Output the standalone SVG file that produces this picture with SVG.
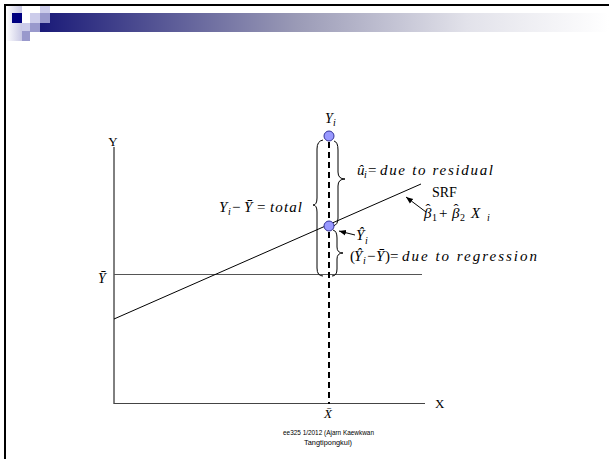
<svg xmlns="http://www.w3.org/2000/svg" width="609" height="459" viewBox="0 0 609 459">
<defs>
<linearGradient id="bar" x1="0" y1="0" x2="1" y2="0">
<stop offset="0" stop-color="#1a1a78"/>
<stop offset="0.45" stop-color="#9a9ab6"/>
<stop offset="0.75" stop-color="#e2e2ea"/>
<stop offset="1" stop-color="#ffffff"/>
</linearGradient>
<linearGradient id="strip" x1="0" y1="0" x2="1" y2="0">
<stop offset="0" stop-color="#ffffff"/>
<stop offset="1" stop-color="#c8c8e4"/>
</linearGradient>
<marker id="ah" viewBox="0 0 10 10" refX="10" refY="5" markerWidth="7" markerHeight="7" orient="auto">
<path d="M0,1 L10,5 L0,9 z" fill="#000"/>
</marker>
</defs>
<style>
.m{font-family:"Liberation Serif","Times New Roman",serif;font-style:italic;font-size:15px;fill:#000}
.n{font-family:"Liberation Serif","Times New Roman",serif;font-size:15px;fill:#000}
.r{font-family:"Liberation Serif","Times New Roman",serif;font-size:13px;fill:#000}
.s{font-family:"Liberation Serif","Times New Roman",serif;font-style:italic;font-size:10px;fill:#000}
.sn{font-style:normal;font-size:10px}
.f{font-family:"Liberation Sans",Arial,sans-serif;font-size:8px;fill:#000}
.br{fill:none;stroke:#000;stroke-width:1}
.pt{fill:#9999ff;stroke:#333399;stroke-width:1}
</style>
<rect width="609" height="459" fill="#fff"/>
<g id="header">
<rect x="6" y="6" width="16" height="35" fill="url(#strip)"/>
<rect x="40" y="13" width="569" height="19" fill="url(#bar)"/>
<rect x="12" y="13" width="10" height="10" fill="#000080"/>
<rect x="30" y="13" width="10" height="10" fill="#ccccea"/>
<rect x="40" y="6" width="10" height="7" fill="#ccccea"/>
<rect x="40" y="13" width="10" height="10" fill="#9999cc"/>
<rect x="22" y="23" width="8" height="8" fill="#ccccea"/>
<rect x="30" y="23" width="10" height="9" fill="#9999cc"/>
<rect x="22" y="31" width="8" height="10" fill="#9999cc"/>
<line x1="4" y1="5" x2="609" y2="5" stroke="#000" stroke-width="2"/>
<line x1="5" y1="4" x2="5" y2="459" stroke="#000" stroke-width="2"/>
</g>
<g id="axes">
<line x1="114" y1="147" x2="114" y2="404" stroke="#000" stroke-width="1"/>
<line x1="114" y1="403.5" x2="425" y2="403.5" stroke="#444" stroke-width="1"/>
<line x1="114" y1="274.5" x2="422" y2="274.5" stroke="#555" stroke-width="1"/>
<text class="r" x="113" y="146" text-anchor="middle">Y</text>
<text class="r" x="435" y="408">X</text>
<text class="m" x="328" y="418" text-anchor="middle" style="font-size:13px">X̄</text>
<text class="m" x="102" y="283" text-anchor="middle" style="font-size:14px">Ȳ</text>
</g>
<g id="srf">
<line x1="114" y1="319" x2="421" y2="184" stroke="#000" stroke-width="1"/>
<text class="r" x="432" y="197" style="font-size:14px">SRF</text>
<text class="m" y="218"><tspan x="424">β</tspan><tspan x="425.5" dy="-4" font-style="normal">ˆ</tspan><tspan class="sn" x="432" dy="7">1</tspan><tspan x="439" dy="-3" font-style="normal">+</tspan><tspan x="452">β</tspan><tspan x="453.5" dy="-4" font-style="normal">ˆ</tspan><tspan class="sn" x="460" dy="7">2</tspan><tspan x="471" dy="-3">X</tspan><tspan class="s" x="487" dy="3">i</tspan></text>
</g>
<g id="dashed-xbar">
<line x1="329" y1="142" x2="329" y2="404" stroke="#000" stroke-width="2" stroke-dasharray="6 4"/>
</g>
<g id="braces">
<path class="br" d="M323,140 Q317,141 317,149 L317,198 Q317,205 313,205 Q317,205 317,212 L317,268 Q317,276 323,276"/>
<path class="br" d="M334,141 Q338,142 338,150 L338,172 Q338,179 345,179 Q338,179 338,186 L338,218 Q338,225 333,226"/>
<path class="br" d="M333,230 Q337,231 337,238 L337,247 Q337,253 343,253 Q337,253 337,259 L337,269 Q337,276 332,276"/>
</g>
<g id="point-yi">
<circle class="pt" cx="329" cy="136" r="5"/>
<text class="m" x="325" y="123" style="font-size:14px">Y</text>
<text class="s" x="333" y="126">i</text>
</g>
<g id="point-yhat">
<circle class="pt" cx="329" cy="226" r="5"/>
<text class="m" x="356" y="240">Ŷ</text>
<text class="s" x="365" y="244">i</text>
</g>
<g id="connectors">
<line x1="426" y1="212" x2="406" y2="197" stroke="#000" stroke-width="1" marker-end="url(#ah)"/>
<line x1="355" y1="235" x2="339" y2="231" stroke="#000" stroke-width="1" marker-end="url(#ah)"/>
</g>
<g id="labels">
<text class="m" x="219" y="212">Y</text>
<text class="s" x="228" y="215">i</text>
<text class="n" x="232" y="212">−</text>
<text class="m" x="244" y="212">Ȳ</text>
<text class="n" x="257" y="212">=</text>
<text class="m" x="270" y="212" textLength="32" lengthAdjust="spacing">total</text>

<text class="m" x="357" y="175">û</text>
<text class="s" x="364" y="178">i</text>
<text class="n" x="368" y="175">=</text>
<text class="m" x="380" y="175" textLength="113" lengthAdjust="spacing">due to residual</text>

<text class="n" x="350" y="261">(</text>
<text class="m" x="354" y="261">Ŷ</text>
<text class="s" x="363" y="264">i</text>
<text class="n" x="367" y="261">−</text>
<text class="m" x="376" y="261">Ȳ</text>
<text class="n" x="385" y="261">)</text>
<text class="n" x="390" y="261">=</text>
<text class="m" x="402" y="261" textLength="135" lengthAdjust="spacing">due to regression</text>
</g>
<g id="footer">
<text class="f" x="283" y="435" textLength="91" lengthAdjust="spacingAndGlyphs">ee325 1/2012 (Ajarn Kaewkwan</text>
<text class="f" x="304" y="445" textLength="48" lengthAdjust="spacingAndGlyphs">Tangtipongkul)</text>
</g>
</svg>
